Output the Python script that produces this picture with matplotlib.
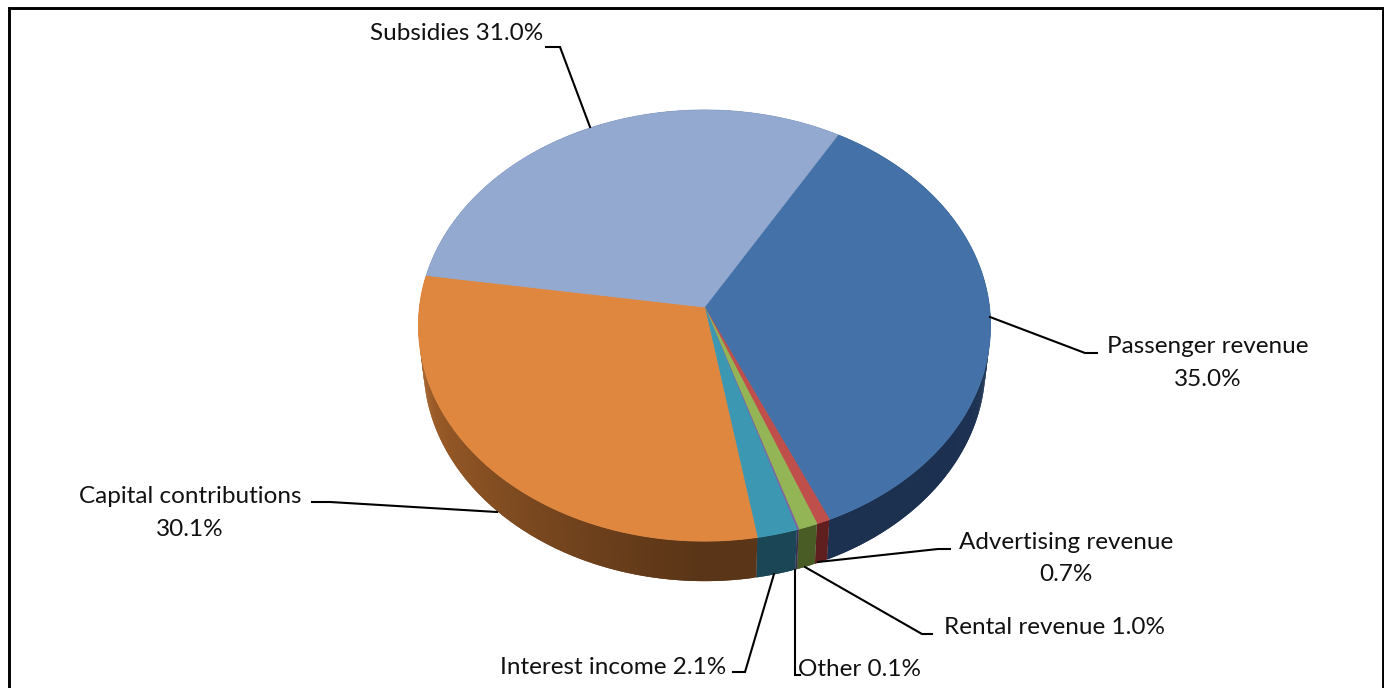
import numpy as np
import matplotlib
matplotlib.use("Agg")
import matplotlib.pyplot as plt

plt.rcParams["font.family"] = ["Lato", "DejaVu Sans"]

# Revenue shares in percent, clockwise from the first slice
categories = ["Passenger revenue", "Advertising revenue", "Rental revenue", "Other",
              "Interest income", "Capital contributions", "Subsidies"]
shares = [35.0, 0.7, 1.0, 0.1, 2.1, 30.1, 31.0]
top_colors = ["#4472A8", "#BE4F4B", "#93B556", "#7D62A0", "#3C98B2", "#E0873F", "#93A9CF"]
rim_near = ["#1F3658", "#5E1F1E", "#4A5C25", "#3C2F50", "#1B4655", "#5A3517", "#46567A"]
rim_far = ["#1C3050", "#5E1F1E", "#4A5C25", "#3C2F50", "#1B4655", "#A8632B", "#46567A"]

labels = ["Passenger revenue\n35.0%", "Advertising revenue\n0.7%", "Rental revenue 1.0%",
          "Other 0.1%", "Interest income 2.1%", "Capital contributions\n30.1%", "Subsidies 31.0%"]
label_xy = [(1208, 363), (1066, 558.5), (1055, 628), (860, 669), (613, 668), (190, 513), (457, 34)]
leaders = [
    [(1097, 353), (1085, 353), (990, 317)],
    [(950, 549), (938, 549), (818, 562)],
    [(932, 634), (922, 634), (805, 567)],
    [(800, 675), (795, 675), (795, 570)],
    [(733, 672), (745, 672), (774, 574)],
    [(312, 502), (330, 502), (497, 512)],
    [(546, 47), (560, 47), (590, 127)],
]

# Perspective projection of the pie disc onto the page, in pixels
CX, CY, A, B, K = 704.5, 307.0, 285.0, 214.0, 0.086
RIM_CY, RIM_A = 347.0, 280.0
START_DEG = 30.2


def project(theta, cy, a):
    u, v = np.sin(theta), np.cos(theta)
    w = 1 + K * v
    return CX + a * u / w, cy - B * v / w


def hex_rgb(c):
    return np.array(matplotlib.colors.to_rgb(c))


fig = plt.figure(figsize=(13.84, 6.88), dpi=100)
ax = fig.add_axes([0, 0, 1, 1])
ax.set_xlim(0, 1384)
ax.set_ylim(688, 0)
ax.axis("off")

edges = np.radians(START_DEG + 3.6 * np.concatenate([[0], np.cumsum(shares)]))

# Side wall of the disc: short overlapping strips so each slice can carry a gradient
for i in range(len(shares)):
    steps = max(2, int(np.degrees(edges[i + 1] - edges[i]) * 2))
    ts = np.linspace(edges[i], edges[i + 1], steps + 1)
    for j in range(steps):
        frac = np.clip((j / max(steps - 1, 1) - 0.1) / 0.75, 0, 1)
        col = (1 - frac) * hex_rgb(rim_near[i]) + frac * hex_rgb(rim_far[i])
        overlap = min(ts[j + 1] + np.radians(0.6), edges[i + 1])
        seg = np.array([ts[j], overlap])
        x1, y1 = project(seg, CY, A)
        x2, y2 = project(seg[::-1], RIM_CY, RIM_A)
        ax.fill(np.r_[x1, x2], np.r_[y1, y2], color=col, lw=0, zorder=2)

# Top face of the disc
for i in range(len(shares)):
    ts = np.linspace(edges[i], edges[i + 1], 200)
    x, y = project(ts, CY, A)
    ax.fill(np.r_[CX, x], np.r_[CY, y], facecolor=top_colors[i], edgecolor=top_colors[i],
            lw=0.6, zorder=3)

# Leader lines and data labels
for pts, text, (tx, ty) in zip(leaders, labels, label_xy):
    px, py = zip(*pts)
    ax.plot(px, py, color="black", lw=1.5, zorder=4, solid_joinstyle="miter")
    ax.text(tx, ty, text, ha="center", va="center", fontsize=17.5, color="#111111",
            linespacing=1.68, zorder=5)

# Chart frame, open along the bottom edge
frame_x = [8.5, 8.5, 1382.5, 1382.5]
frame_y = [688, 8, 8, 688]
ax.plot(frame_x, frame_y, color="black", lw=2.1, solid_joinstyle="miter", zorder=6)

fig.savefig("out.png", dpi=100, facecolor="white")
